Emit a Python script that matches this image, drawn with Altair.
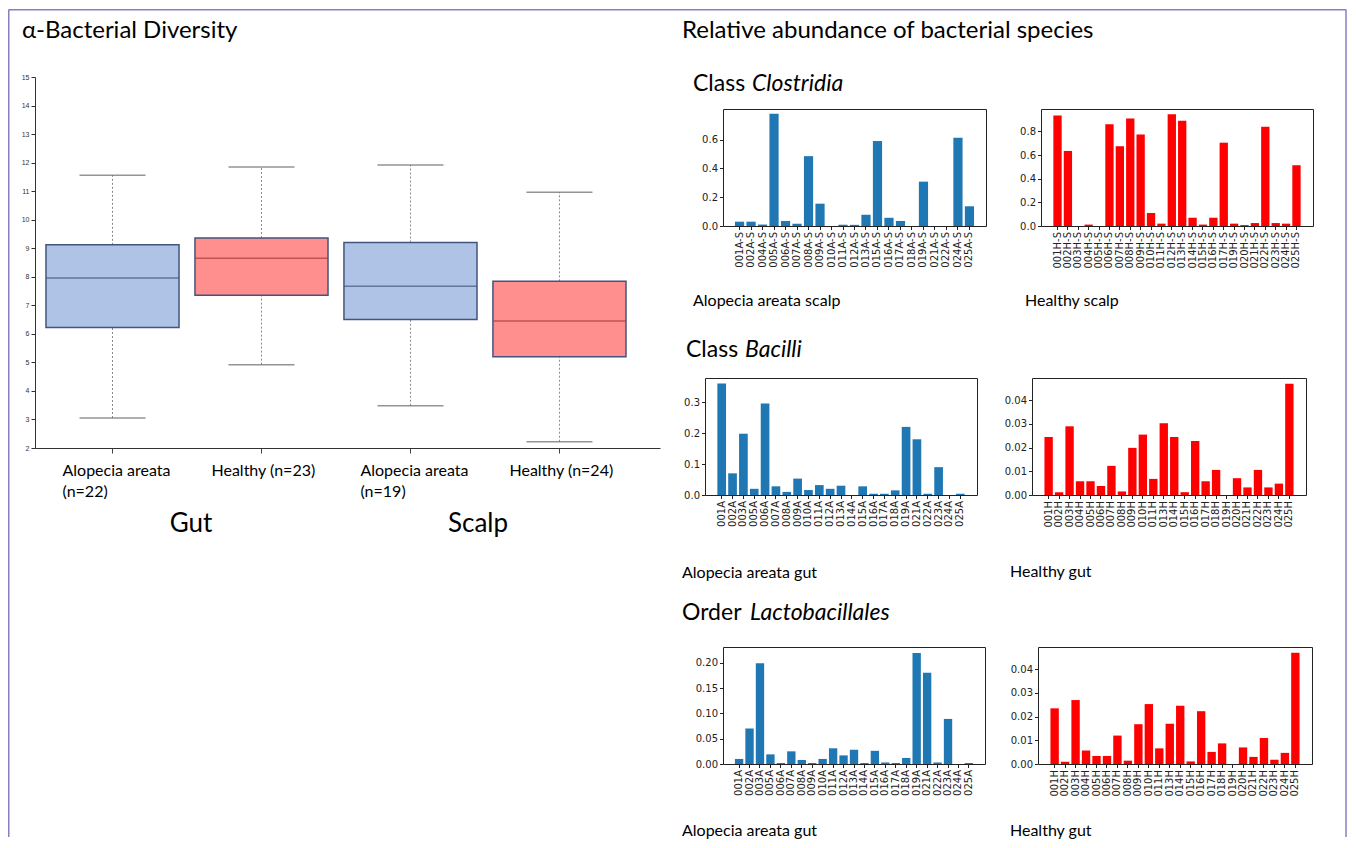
import altair as alt
import pandas as pd

# ---------------- data: alpha diversity box plot ----------------
box_cats = ["AA gut", "Healthy gut", "AA scalp", "Healthy scalp"]
box_labels = ["Alopecia areata\n(n=22)", "Healthy (n=23)", "Alopecia areata\n(n=19)", "Healthy (n=24)"]
box_status = ["Alopecia areata", "Healthy", "Alopecia areata", "Healthy"]
box_lo = [3.05, 4.92, 3.48, 2.22]
box_q1 = [6.22, 7.35, 6.50, 5.20]
box_med = [7.96, 8.65, 7.67, 6.45]
box_q3 = [9.12, 9.36, 9.20, 7.84]
box_hi = [11.56, 11.85, 11.92, 10.96]
box_yticks = [2, 3, 4, 5, 6, 7, 8, 9, 10, 11, 12, 13, 14, 15]

# ---------------- data: relative abundance bars ----------------
clos_aa_ids = ["001A-S", "002A-S", "004A-S", "005A-S", "006A-S", "007A-S", "008A-S", "009A-S",
               "010A-S", "011A-S", "012A-S", "013A-S", "015A-S", "016A-S", "017A-S", "018A-S",
               "019A-S", "021A-S", "022A-S", "024A-S", "025A-S"]
clos_aa_vals = [0.030, 0.030, 0.010, 0.780, 0.035, 0.015, 0.485, 0.155,
                0.000, 0.008, 0.008, 0.078, 0.590, 0.057, 0.035, 0.000,
                0.308, 0.000, 0.000, 0.612, 0.137]

clos_h_ids = ["001H-S", "002H-S", "003H-S", "004H-S", "005H-S", "006H-S", "007H-S", "008H-S",
              "009H-S", "010H-S", "011H-S", "012H-S", "013H-S", "014H-S", "015H-S", "016H-S",
              "017H-S", "019H-S", "020H-S", "021H-S", "022H-S", "023H-S", "024H-S", "025H-S"]
clos_h_vals = [0.935, 0.635, 0.000, 0.012, 0.000, 0.860, 0.675, 0.910,
               0.775, 0.110, 0.020, 0.945, 0.890, 0.070, 0.012, 0.070,
               0.705, 0.020, 0.008, 0.025, 0.840, 0.025, 0.020, 0.515]

bac_aa_ids = ["001A", "002A", "003A", "005A", "006A", "007A", "008A", "009A", "010A", "011A",
              "012A", "013A", "014A", "015A", "016A", "017A", "018A", "019A", "021A", "022A",
              "023A", "024A", "025A"]
bac_aa_vals = [0.360, 0.070, 0.198, 0.020, 0.296, 0.028, 0.010, 0.053, 0.016, 0.032,
               0.020, 0.030, 0.000, 0.028, 0.004, 0.004, 0.015, 0.220, 0.180, 0.004,
               0.090, 0.000, 0.004]

bac_h_ids = ["001H", "002H", "003H", "004H", "005H", "006H", "007H", "008H", "009H", "010H",
             "011H", "013H", "014H", "015H", "016H", "017H", "018H", "019H", "020H", "021H",
             "022H", "023H", "024H", "025H"]
bac_h_vals = [0.0245, 0.0012, 0.0290, 0.0058, 0.0058, 0.0038, 0.0123, 0.0015, 0.0199, 0.0255,
              0.0068, 0.0303, 0.0245, 0.0012, 0.0228, 0.0058, 0.0106, 0.0000, 0.0071, 0.0032,
              0.0106, 0.0032, 0.0048, 0.0470]

lac_aa_ids = list(bac_aa_ids)
lac_aa_vals = [0.010, 0.070, 0.199, 0.019, 0.002, 0.025, 0.008, 0.002, 0.010, 0.031,
               0.017, 0.028, 0.002, 0.026, 0.003, 0.002, 0.012, 0.219, 0.180, 0.003,
               0.089, 0.000, 0.002]

lac_h_ids = list(bac_h_ids)
lac_h_vals = [0.0235, 0.0010, 0.0270, 0.0057, 0.0034, 0.0034, 0.0120, 0.0014, 0.0168, 0.0253,
              0.0066, 0.0170, 0.0246, 0.0011, 0.0223, 0.0051, 0.0087, 0.0000, 0.0070, 0.0030,
              0.0110, 0.0018, 0.0047, 0.0470]

# ---------------- styling ----------------
TXT_FONT = "Lato"
BLUE = "#1f77b4"
RED = "#ff0000"
OX, OY = 35, 76  # page position of the box plot's origin
one = alt.Data(values=[{}])


def txt(s, x, y, size, italic=False, align="left"):
    kw = dict(text=s, align=align, baseline="middle", fontSize=size, font=TXT_FONT, color="#000")
    if italic:
        kw["fontStyle"] = "italic"
    return alt.Chart(one).mark_text(**kw).encode(x=alt.value(x - OX), y=alt.value(y - OY))


def bar_chart(ids, vals, color, ymax, yticks, fmt, width):
    df = pd.DataFrame({"id": ids, "v": vals})
    margin = width / 22.0  # matplotlib-like 5% data margins
    return alt.Chart(df).mark_bar(color=color).encode(
        x=alt.X("id:N", sort=None, title=None,
                scale=alt.Scale(paddingInner=0.2, paddingOuter=0,
                                range=[margin, width - margin]),
                axis=alt.Axis(labelAngle=270, labelFont="DejaVu Sans", labelFontSize=10,
                              labelColor="#222", tickSize=3.5, tickColor="#222",
                              domain=False, labelPadding=2)),
        y=alt.Y("v:Q", title=None, scale=alt.Scale(domain=[0, ymax], nice=False),
                axis=alt.Axis(values=yticks, format=fmt, grid=False, labelFont="DejaVu Sans",
                              labelFontSize=10, labelColor="#222", tickSize=3.5,
                              tickColor="#222", domain=False, labelPadding=2)),
    ).properties(width=width, height=117,
                 view=alt.ViewBackground(stroke="#222", strokeWidth=1))


def spacer(w, h):
    return alt.Chart(one).mark_point(opacity=0).encode(
        x=alt.value(0), y=alt.value(0)
    ).properties(width=w, height=h, view=alt.ViewBackground(stroke="transparent"))


# ---------------- box plot ----------------
box_df = pd.DataFrame({"cat": box_cats, "label": box_labels, "status": box_status,
                       "lo": box_lo, "q1": box_q1, "med": box_med, "q3": box_q3, "hi": box_hi})
xenc = alt.X("cat:N", sort=box_cats, title=None,
             scale=alt.Scale(paddingInner=0.107, paddingOuter=0.151, align=0.244),
             axis=alt.Axis(labels=False, tickSize=5, tickColor="#444", domainColor="#333"))
base = alt.Chart(box_df).encode(x=xenc)
yscale = alt.Scale(domain=[2, 15], nice=False)
yaxis = alt.Axis(values=box_yticks, labelFontSize=7, labelFont="Liberation Sans",
                 labelColor="#333", tickSize=4, tickColor="#333", domainColor="#333",
                 grid=False, labelPadding=2, labelOverlap=False, format="d")


def yq(field):
    return alt.Y(field, type="quantitative", scale=yscale, axis=yaxis, title=None)


fill_scale = alt.Scale(domain=["Alopecia areata", "Healthy"], range=["#aec3e6", "#ff8f8f"])
med_scale = alt.Scale(domain=["Alopecia areata", "Healthy"], range=["#41557f", "#a83a3a"])

whisk_lo = base.mark_rule(color="#888", strokeDash=[2, 2]).encode(y=yq("lo"), y2="q1:Q")
whisk_hi = base.mark_rule(color="#888", strokeDash=[2, 2]).encode(y=yq("q3"), y2="hi:Q")
cap_lo = base.mark_tick(size=66, thickness=1.5, color="#666").encode(y=yq("lo"))
cap_hi = base.mark_tick(size=66, thickness=1.5, color="#666").encode(y=yq("hi"))
boxes = base.mark_bar(stroke="#41557f", strokeWidth=1.5).encode(
    y=yq("q1"), y2="q3:Q",
    fill=alt.Fill("status:N", scale=fill_scale, legend=None))
medians = base.mark_tick(size=133, thickness=1.5).encode(
    y=yq("med"),
    color=alt.Color("status:N", scale=med_scale, legend=None))
cat_labels = base.mark_text(align="left", baseline="top", dx=-50, fontSize=16, font=TXT_FONT,
                            lineBreak="\n", lineHeight=21, color="#000").encode(
    y=alt.value(462 - OY), text="label:N")

FRAME = "#8e7cc3"
frame_l = alt.Chart(one).mark_rule(color=FRAME, strokeWidth=1.5).encode(
    x=alt.value(8.75 - OX), y=alt.value(8.5 - OY), y2=alt.value(836 - OY))
frame_r = alt.Chart(one).mark_rule(color=FRAME, strokeWidth=1.5).encode(
    x=alt.value(1346 - OX), y=alt.value(8.5 - OY), y2=alt.value(836 - OY))
frame_t = alt.Chart(one).mark_rule(color=FRAME, strokeWidth=1.5).encode(
    x=alt.value(8.75 - OX), x2=alt.value(1346 - OX), y=alt.value(8.75 - OY))

texts = [
    txt("α-Bacterial Diversity", 22, 30, 24),
    txt("Gut", 191, 523, 26, align="center"),
    txt("Scalp", 478, 523, 26, align="center"),
    txt("Relative abundance of bacterial species", 682, 30, 24),
    txt("Class", 693, 83, 23), txt("Clostridia", 752, 83, 23, italic=True),
    txt("Class", 686, 349, 23), txt("Bacilli", 745, 349, 23, italic=True),
    txt("Order", 682, 612, 23), txt("Lactobacillales", 750, 612, 23, italic=True),
    txt("Alopecia areata scalp", 693, 300, 16), txt("Healthy scalp", 1025, 300, 16),
    txt("Alopecia areata gut", 682, 572, 16), txt("Healthy gut", 1010, 571, 16),
    txt("Alopecia areata gut", 682, 830, 16), txt("Healthy gut", 1010, 830, 16),
]

left = alt.layer(whisk_lo, whisk_hi, cap_lo, cap_hi, boxes, medians, cat_labels,
                 frame_l, frame_r, frame_t, *texts).properties(
    width=625, height=371, view=alt.ViewBackground(stroke="transparent"))

# ---------------- bar panels ----------------
r1a = bar_chart(clos_aa_ids, clos_aa_vals, BLUE, 0.8125, [0, 0.2, 0.4, 0.6], ".1f", 263)
r1b = bar_chart(clos_h_ids, clos_h_vals, RED, 0.99, [0, 0.2, 0.4, 0.6, 0.8], ".1f", 272)
r2a = bar_chart(bac_aa_ids, bac_aa_vals, BLUE, 0.378, [0, 0.1, 0.2, 0.3], ".1f", 272)
r2b = bar_chart(bac_h_ids, bac_h_vals, RED, 0.0494, [0, 0.01, 0.02, 0.03, 0.04], ".2f", 274)
r3a = bar_chart(lac_aa_ids, lac_aa_vals, BLUE, 0.231, [0, 0.05, 0.10, 0.15, 0.20], ".2f", 262)
r3b = bar_chart(lac_h_ids, lac_h_vals, RED, 0.0494, [0, 0.01, 0.02, 0.03, 0.04], ".2f", 274)

row1 = alt.hconcat(spacer(18, 117), alt.hconcat(r1a, r1b, spacing=55, bounds="flush"),
                   spacing=0, bounds="flush")
row2 = alt.hconcat(r2a, r2b, spacing=55, bounds="flush")
row3 = alt.hconcat(spacer(18, 117), alt.hconcat(r3a, r3b, spacing=53, bounds="flush"),
                   spacing=0, bounds="flush")
# nested concat rows take no height in a flush layout, so the spacing is the row pitch
rows = alt.vconcat(row1, row2, row3, spacing=269, bounds="flush")
right = alt.vconcat(spacer(1, 32), rows, spacing=0, bounds="flush")

chart = alt.hconcat(left, right, spacing=45, bounds="flush").properties(
    padding=0, background="white"
).configure_view(strokeWidth=0)

chart.save("out.html", embed_options={"renderer": "svg", "actions": False})
